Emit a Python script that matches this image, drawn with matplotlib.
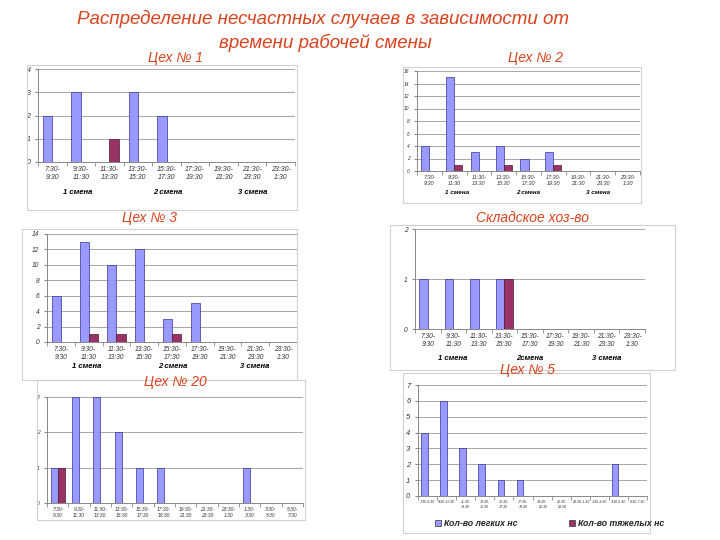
import matplotlib
matplotlib.use("Agg")
import matplotlib.pyplot as plt
import numpy as np
from matplotlib.patches import Rectangle

plt.rcParams["font.family"] = ["Liberation Sans", "DejaVu Sans"]

W, H = 720, 540

# данные
times9 = ["7:30-\n9:30", "9:30-\n11:30", "11:30-\n13:30", "13:30-\n15:30",
          "15:30-\n17:30", "17:30-\n19:30", "19:30-\n21:30", "21:30-\n23:30",
          "23:30-\n1:30"]
times12 = times9 + ["1:30-\n3:30", "3:30-\n5:30", "5:30-\n7:30"]
times12_c5 = ["7:30-9:30", "9:30-11:30", "11:30-\n13:30", "13:30-\n15:30",
              "15:30-\n17:30", "17:30-\n19:30", "19:30-\n21:30", "21:30-\n23:30",
              "23:30-1:30", "1:30-3:30", "3:30-5:30", "5:30-7:30"]

c1_light = [2, 3, 0, 3, 2, 0, 0, 0, 0]
c1_heavy = [0, 0, 1, 0, 0, 0, 0, 0, 0]
c2_light = [4, 15, 3, 4, 2, 3, 0, 0, 0]
c2_heavy = [0, 1, 0, 1, 0, 1, 0, 0, 0]
c3_light = [6, 13, 10, 12, 3, 5, 0, 0, 0]
c3_heavy = [0, 1, 1, 0, 1, 0, 0, 0, 0]
sk_light = [1, 1, 1, 1, 0, 0, 0, 0, 0]
sk_heavy = [0, 0, 0, 1, 0, 0, 0, 0, 0]
c20_light = [1, 3, 3, 2, 1, 1, 0, 0, 0, 1, 0, 0]
c20_heavy = [1, 0, 0, 0, 0, 0, 0, 0, 0, 0, 0, 0]
c5_light = [4, 6, 3, 2, 1, 1, 0, 0, 0, 0, 2, 0]
c5_heavy = [0, 0, 0, 0, 0, 0, 0, 0, 0, 0, 0, 0]

shifts = ["1 смена", "2 смена", "3 смена"]
shifts_sk = ["1 смена", "2смена", "3 смена"]

RED = "#d9431e"
LIGHT = "#9999ff"
HEAVY = "#993366"

fig = plt.figure(figsize=(7.2, 5.4), dpi=100)


def px(x, y):
    return x / W, 1 - y / H


def frame(l, t, r, b):
    fig.patches.append(Rectangle((l / W, 1 - b / H), (r - l) / W, (b - t) / H,
                                 transform=fig.transFigure, fill=False,
                                 edgecolor="#d0d0d0", lw=0.8))


def panel(box, light, heavy, labels, ymax, ystep, fs, yfs=None):
    l, t, r, b = box
    ax = fig.add_axes([l / W, 1 - b / H, (r - l) / W, (b - t) / H])
    x = np.arange(len(light))
    w = 0.33
    ax.bar(x - w / 2, light, w, color=LIGHT, edgecolor="#333399", lw=0.5,
           zorder=3)
    ax.bar(x + w / 2, heavy, w, color=HEAVY, edgecolor="#4d1a33", lw=0.5,
           zorder=3)
    ax.set_xlim(-0.5, len(light) - 0.5)
    ax.set_ylim(0, ymax)
    ax.set_yticks(np.arange(0, ymax + 0.01, ystep))
    ax.yaxis.grid(True, color="#a8a8a8", lw=0.7, zorder=0)
    ax.set_xticks(x)
    ax.set_xticklabels(labels, fontsize=fs, style="italic", color="#333333",
                       linespacing=1.25)
    ax.set_xticks(np.arange(-0.5, len(light)), minor=True)
    ax.tick_params(axis="x", which="major", length=0, pad=3)
    ax.tick_params(axis="x", which="minor", length=3, color="#888888")
    ax.tick_params(axis="y", labelsize=yfs or fs, length=2, color="#888888",
                   labelcolor="#333333")
    for lab in ax.get_yticklabels():
        lab.set_style("italic")
    for s in ["top", "right"]:
        ax.spines[s].set_visible(False)
    for s in ["left", "bottom"]:
        ax.spines[s].set_color("#888888")
        ax.spines[s].set_linewidth(0.7)
    return ax


def label(x, y, s, **kw):
    fx, fy = px(x, y)
    fig.text(fx, fy, s, ha="center", va="center", **kw)


# рамки
frame(27, 65, 297, 210)
frame(403, 67, 641, 203)
frame(22, 229, 297, 380)
frame(390, 225, 675, 370)
frame(37, 380, 305, 520)
frame(403, 373, 650, 533)

panel((38, 69, 295, 162), c1_light, c1_heavy, times9, 4, 1, 5)
panel((417, 71, 640, 171), c2_light, c2_heavy, times9, 16, 2, 4, 3.5)
panel((47, 234, 297, 342), c3_light, c3_heavy, times9, 14, 2, 4.8)
panel((415, 229, 645, 329), sk_light, sk_heavy, times9, 2, 1, 4.8)
panel((47, 397, 303, 503), c20_light, c20_heavy, times12, 3, 1, 3.5, 3.5)
panel((418, 385, 647, 496), c5_light, c5_heavy, times12_c5, 7, 1, 2.6, 5.5)

# смены
for s, x in zip(shifts, [78, 168, 253]):
    label(x, 193, s, fontsize=5.5, style="italic", weight="bold")
for s, x in zip(shifts, [457, 528, 598]):
    label(x, 192, s, fontsize=4.5, style="italic", weight="bold")
for s, x in zip(shifts, [87, 173, 255]):
    label(x, 367, s, fontsize=5.5, style="italic", weight="bold")
for s, x in zip(shifts_sk, [453, 530, 607]):
    label(x, 359, s, fontsize=5.5, style="italic", weight="bold")

# легенда
for col, x, s in [(LIGHT, 438, "Кол-во легких нс"), (HEAVY, 572, "Кол-во тяжелых нс")]:
    fx, fy = px(x - 3, 526)
    fig.patches.append(Rectangle((fx, fy), 6 / W, 6 / H, transform=fig.transFigure,
                                 facecolor=col, edgecolor="#333333", lw=0.5))
    fx, fy = px(x + 6, 523)
    fig.text(fx, fy, s, ha="left", va="center", fontsize=6.3,
             style="italic", weight="bold", color="#222222")

# заголовки
label(323, 19, "Распределение несчастных случаев в зависимости от",
      fontsize=13.5, style="italic", color=RED)
label(325, 43, "времени рабочей смены", fontsize=13.5, style="italic", color=RED)
for s, x, y in [("Цех № 1", 175, 58), ("Цех № 2", 535, 58), ("Цех № 3", 150, 218),
                ("Складское хоз-во", 533, 218), ("Цех № 20", 175, 382),
                ("Цех № 5", 528, 370)]:
    label(x, y, s, fontsize=10, style="italic", color=RED)

fig.savefig("out.png", dpi=100)
